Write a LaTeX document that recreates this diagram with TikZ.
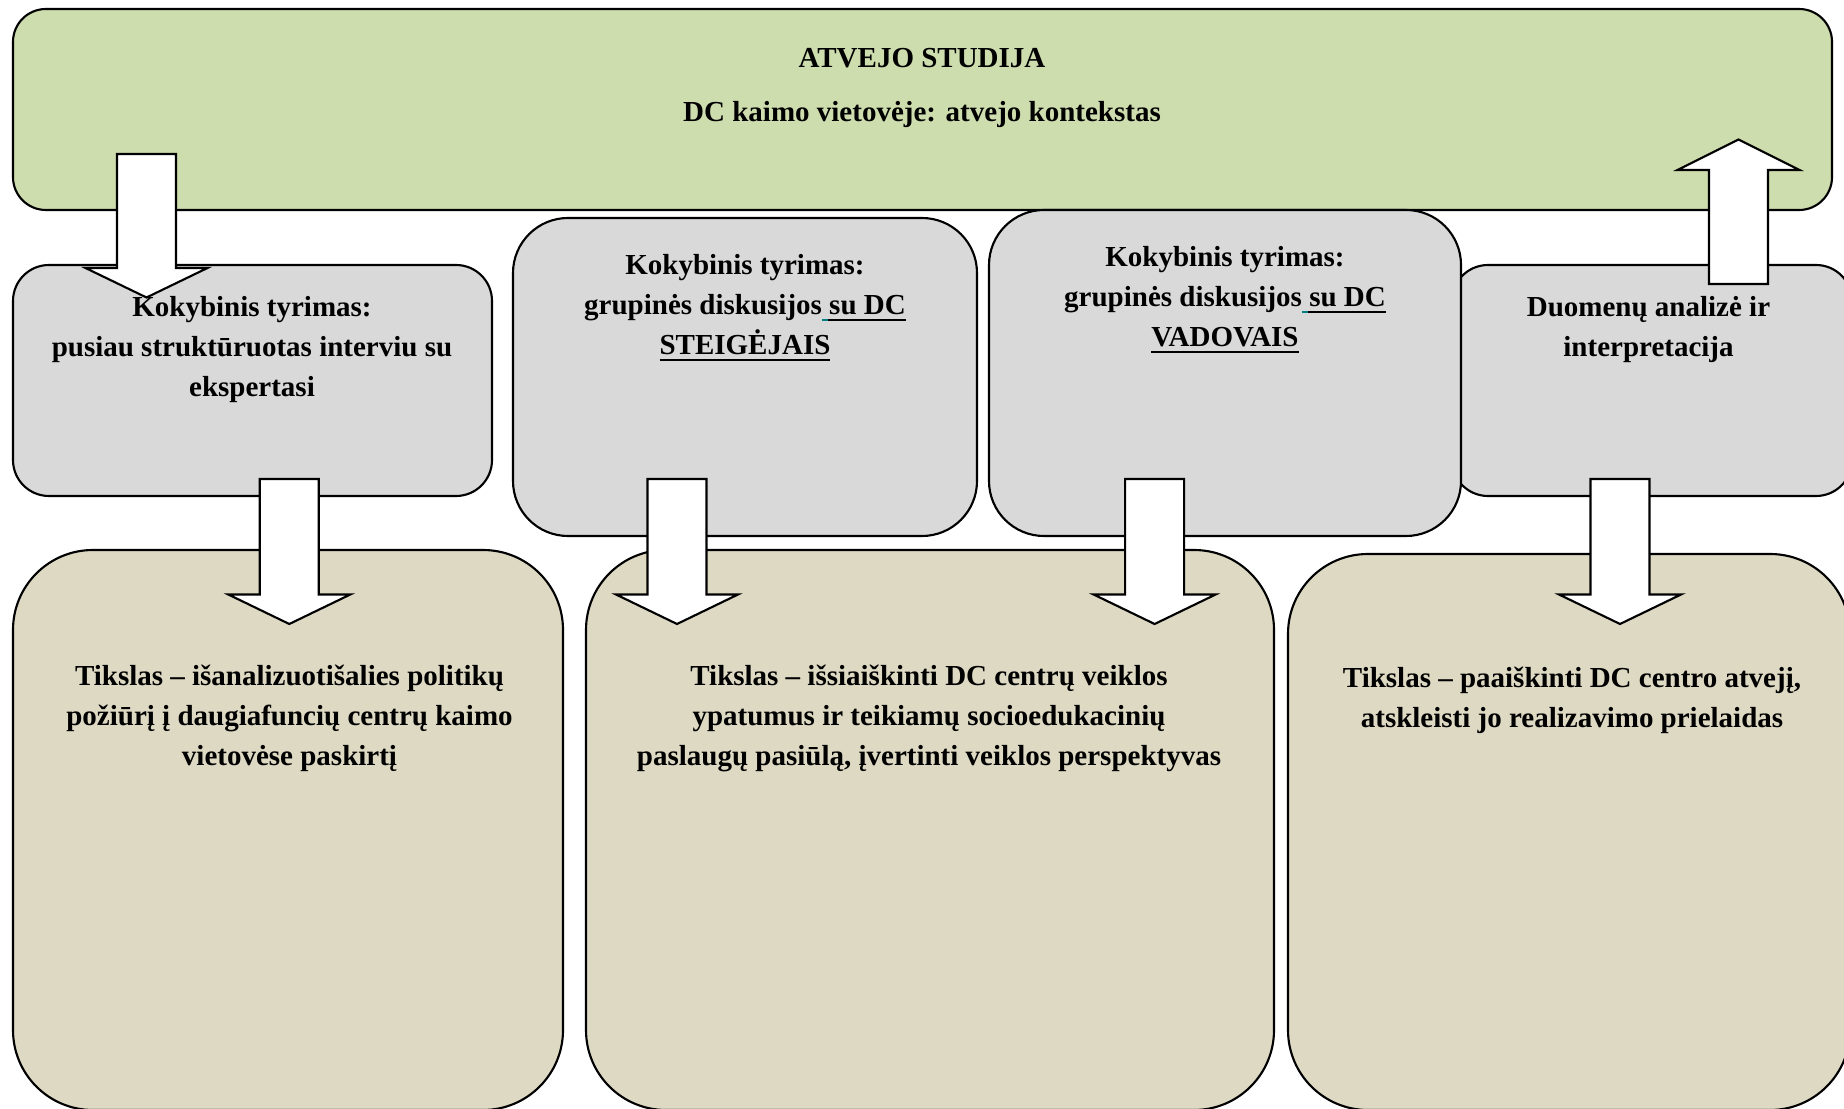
\documentclass[tikz,border=0pt]{standalone}
\usepackage{fontspec}
\setmainfont{Liberation Serif}
\newsavebox{\myulbox}
\newcommand{\myul}[1]{\sbox{\myulbox}{#1}\rlap{\rule[-2.5pt]{\wd\myulbox}{1pt}}\usebox{\myulbox}}
\definecolor{greenfill}{RGB}{206,221,173}
\definecolor{grayfill}{RGB}{217,217,217}
\definecolor{beigefill}{RGB}{221,217,195}
\definecolor{tealline}{RGB}{0,128,128}
\tikzset{
  outline/.style={draw=black, line width=0.9pt},
  greenbox/.style={outline, fill=greenfill, rounded corners=14pt},
  smallgray/.style={outline, fill=grayfill, rounded corners=15.3pt},
  tallgray/.style={outline, fill=grayfill, rounded corners=23.4pt},
  beigebox/.style={outline, fill=beigefill, rounded corners=34pt},
  blockarrow/.style={outline, fill=white, line join=miter},
  txt/.style={font=\bfseries\fontsize{12.34}{17.02}\selectfont, align=center, inner sep=0pt, anchor=base},
}
\newcommand{\ArrDown}[3]{%
  \draw[blockarrow] ({#1-29.5},#2) -- ({#1+29.5},#2) -- ({#1+29.5},#3) -- ({#1+61},#3)
    -- (#1,{#3+29.5}) -- ({#1-61},#3) -- ({#1-29.5},#3) -- cycle;}
\newcommand{\ArrUp}[3]{%
  \draw[blockarrow] ({#1-29.5},#2) -- ({#1+29.5},#2) -- ({#1+29.5},#3) -- ({#1+61},#3)
    -- (#1,{#3-30.5}) -- ({#1-61},#3) -- ({#1-29.5},#3) -- cycle;}
\newcommand{\suDC}{\textcolor{tealline}{\rule[-2.5pt]{2.6pt}{1pt}}\rule[-2.5pt]{0.5pt}{1pt}\myul{su DC}}
\begin{document}
\begin{tikzpicture}[x=0.4255pt, y=-0.4255pt]
\clip (0,0) rectangle (1844,1109);
\fill[white] (0,0) rectangle (1844,1109);
% boxes
\path[greenbox] (13,9) rectangle (1832,210);
\path[smallgray] (1452,265) rectangle (1852,496);
\path[smallgray] (13,265) rectangle (492,496);
\path[tallgray] (513,218) rectangle (977,536);
\path[tallgray] (989,210) rectangle (1461,536);
\path[beigebox] (13,550) rectangle (563,1110);
\path[beigebox] (586,550) rectangle (1274,1110);
\path[beigebox] (1288,554) rectangle (1850,1110);
% block arrows
\ArrDown{146.5}{154}{268}
\ArrDown{289.3}{479}{594.5}
\ArrDown{677}{479}{594.5}
\ArrDown{1154.6}{479}{594.5}
\ArrDown{1620}{479}{594.5}
\ArrUp{1738.5}{284}{170}
% texts (anchor = baseline of the last line)
\node[txt] (title1) at (922,68) {ATVEJO STUDIJA};
\node[txt] (title2) at (922,121.5) {DC kaimo vietovėje: atvejo kontekstas};
\node[txt] (q1) at (252,397) {Kokybinis tyrimas:\\pusiau struktūruotas interviu su\\ekspertasi};
\node[txt] (q2) at (745,355) {Kokybinis tyrimas:\\grupinės diskusijos\suDC\\\myul{STEIGĖJAIS}};
\node[txt] (q3) at (1225,347) {Kokybinis tyrimas:\\grupinės diskusijos\suDC\\\myul{VADOVAIS}};
\node[txt] (da) at (1648.5,357) {Duomenų analizė ir\\interpretacija};
\node[txt] (g1) at (289.5,765) {Tikslas – išanalizuotišalies politikų\\požiūrį į daugiafuncių centrų kaimo\\vietovėse paskirtį};
\node[txt] (g2) at (929,765) {Tikslas – išsiaiškinti DC centrų veiklos\\ypatumus ir teikiamų socioedukacinių\\paslaugų pasiūlą, įvertinti veiklos perspektyvas};
\node[txt] (g3) at (1572,727) {Tikslas – paaiškinti DC centro atvejį,\\atskleisti jo realizavimo prielaidas};
\end{tikzpicture}
\end{document}
